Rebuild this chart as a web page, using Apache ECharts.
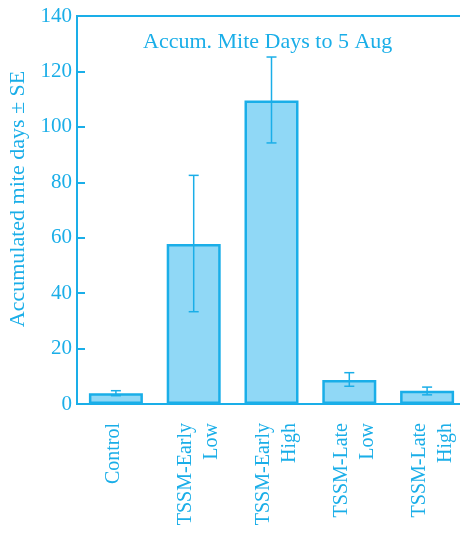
<!DOCTYPE html>
<html>
<head>
<meta charset="utf-8">
<script src="https://cdn.jsdelivr.net/npm/echarts@6/dist/echarts.min.js"></script>
<style>
  html, body { margin: 0; padding: 0; background: #fff; }
  #main { width: 460px; height: 537px; }
</style>
</head>
<body>
<div id="main"></div>
<script>
var categories = ['Control', 'TSSM-Early\nLow', 'TSSM-Early\nHigh', 'TSSM-Late\nLow', 'TSSM-Late\nHigh'];
var means = [3.9, 57.7, 109.5, 8.7, 4.8];
var errLow = [3.0, 33.3, 94.2, 6.4, 3.3];
var errHigh = [4.8, 82.5, 125.2, 11.3, 6.1];
var yTicks = [0, 20, 40, 60, 80, 100, 120, 140];

var cyan = '#1aaee8';
var font = '"Liberation Serif", serif';

var chart = echarts.init(document.getElementById('main'));

var errData = categories.map(function (c, i) {
    return [i, errLow[i], errHigh[i]];
});

var option = {
    animation: false,
    title: {
        text: 'Accum. Mite Days to 5 Aug',
        left: 138,
        top: 26,
        textStyle: { color: cyan, fontFamily: font, fontSize: 22, fontWeight: 'normal' }
    },
    grid: {
        left: 77,
        top: 16,
        width: 389,
        height: 388,
        show: true,
        borderColor: cyan,
        borderWidth: 2,
        containLabel: false,
        outerBoundsMode: 'none'
    },
    xAxis: {
        type: 'category',
        data: categories,
        axisLine: { lineStyle: { color: cyan, width: 2 } },
        axisTick: { inside: true, length: 7, lineStyle: { color: cyan, width: 2 } },
        axisLabel: {
            rotate: 90,
            margin: 19,
            interval: 0,
            color: cyan,
            fontFamily: font,
            fontSize: 20,
            lineHeight: 26,
            // blank spacer lines nudge the label blocks sideways like the original
            formatter: function (v) {
                return v.indexOf('\n') >= 0 ? '{g| }\n' + v : v + '\n{h| }';
            },
            rich: {
                g: { fontSize: 1, lineHeight: 11 },
                h: { fontSize: 1, lineHeight: 5 }
            }
        }
    },
    yAxis: {
        type: 'value',
        min: yTicks[0],
        max: yTicks[yTicks.length - 1],
        interval: 20,
        name: 'Accumulated mite days \u00b1 SE',
        nameLocation: 'middle',
        nameGap: 44,
        nameTextStyle: { color: cyan, fontFamily: font, fontSize: 22, padding: [0, 0, 0, 22] },
        axisLine: { show: true, lineStyle: { color: cyan, width: 2 } },
        axisTick: { show: true, inside: true, length: 8, lineStyle: { color: cyan, width: 2 } },
        axisLabel: { color: cyan, fontFamily: font, fontSize: 21, margin: 5 },
        splitLine: { show: false }
    },
    series: [{
        type: 'bar',
        data: means,
        barWidth: 54,
        itemStyle: { color: '#90d8f6', borderColor: cyan, borderWidth: 2.5 }
    }, {
        type: 'custom',
        data: errData,
        z: 5,
        renderItem: function (params, api) {
            var x = api.coord([api.value(0), api.value(1)])[0];
            var lo = api.coord([api.value(0), api.value(1)])[1];
            var hi = api.coord([api.value(0), api.value(2)])[1];
            var cap = 5;
            var style = { stroke: cyan, lineWidth: 1.5 };
            return {
                type: 'group',
                children: [
                    { type: 'line', shape: { x1: x, y1: lo, x2: x, y2: hi }, style: style },
                    { type: 'line', shape: { x1: x - cap, y1: hi, x2: x + cap, y2: hi }, style: style },
                    { type: 'line', shape: { x1: x - cap, y1: lo, x2: x + cap, y2: lo }, style: style }
                ]
            };
        }
    }]
};

chart.setOption(option);
</script>
</body>
</html>
